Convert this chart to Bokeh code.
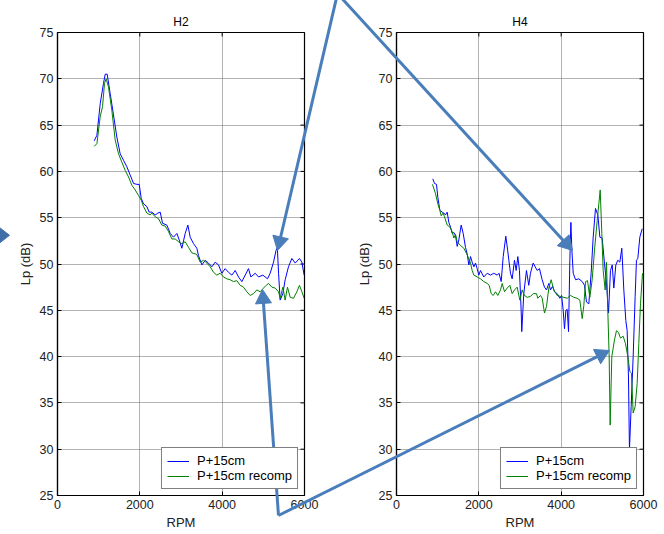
import math
from bokeh.plotting import figure
from bokeh.models import Range1d, FixedTicker, Legend
from bokeh.layouts import row
from bokeh.embed import file_html
from bokeh.resources import INLINE

# ---------------- data ----------------
h2_rpm_p15 = [891, 957, 1037, 1117, 1159, 1207, 1280, 1360, 1442, 1523, 1604, 1685,
              1766, 1847, 1928, 1985, 2033, 2090, 2171, 2227, 2292, 2373, 2438, 2495,
              2551, 2657, 2738, 2818, 2900, 2956, 3021, 3102, 3167, 3223, 3304, 3386,
              3425, 3508, 3588, 3668, 3750, 3831, 3911, 3992, 4073, 4154, 4236, 4316,
              4397, 4478, 4560, 4640, 4697, 4802, 4883, 4989, 5102, 5166, 5248, 5310,
              5340, 5370, 5409, 5475, 5530, 5611, 5693, 5774, 5878, 5936, 5992]
h2_lp_p15 = [63.3, 63.9, 67.3, 69.5, 70.5, 70.5, 68.4, 66.1, 63.7, 61.9, 61.2, 60.5,
             59.6, 58.7, 58.6, 58.6, 57.1, 56.5, 56.2, 55.6, 55.6, 55.3, 55.5, 55.6,
             54.4, 54.2, 53.3, 52.9, 53.3, 52.6, 51.7, 53.3, 54.2, 52.9, 52.2, 51.7,
             50.9, 49.9, 50.4, 50.1, 49.7, 50.2, 49.9, 49.0, 49.5, 49.1, 48.8, 49.3,
             48.6, 48.1, 48.8, 49.5, 48.6, 49.0, 48.6, 48.8, 48.4, 49.0, 50.2, 51.5,
             51.8, 49.0, 46.1, 46.8, 48.3, 49.7, 50.6, 50.1, 50.6, 50.2, 48.8]

h2_rpm_rec = [891, 957, 1037, 1094, 1142, 1183, 1239, 1320, 1401, 1482, 1563, 1645,
              1725, 1807, 1887, 1968, 2033, 2090, 2171, 2252, 2292, 2373, 2454, 2535,
              2616, 2697, 2778, 2859, 2940, 3021, 3102, 3183, 3264, 3345, 3386, 3467,
              3547, 3628, 3709, 3790, 3871, 3952, 4032, 4114, 4195, 4275, 4356, 4438,
              4518, 4600, 4681, 4761, 4843, 4924, 5004, 5070, 5126, 5208, 5288, 5369,
              5409, 5475, 5530, 5587, 5652, 5733, 5814, 5878, 5936, 5992]
h2_lp_rec = [62.7, 63.0, 65.9, 67.0, 69.5, 70.0, 69.1, 66.6, 63.4, 61.9, 61.0, 60.1,
             59.4, 58.5, 58.0, 57.4, 56.9, 56.2, 55.5, 55.3, 55.5, 55.1, 54.9, 54.2,
             54.1, 53.5, 52.7, 52.7, 52.4, 52.2, 52.4, 51.8, 51.2, 51.1, 51.0, 50.2,
             50.4, 50.1, 49.7, 49.1, 48.8, 49.0, 48.6, 48.4, 48.3, 48.1, 48.2, 47.7,
             47.5, 47.0, 46.6, 46.8, 47.2, 47.0, 47.4, 47.7, 47.9, 47.5, 47.4, 47.0,
             46.3, 47.5, 46.1, 47.5, 46.4, 46.3, 47.0, 47.7, 47.0, 46.3]

h4_rpm_p15 = [882, 923, 972, 1004, 1053, 1110, 1150, 1190, 1231, 1271, 1312, 1352,
              1393, 1433, 1474, 1514, 1571, 1620, 1676, 1717, 1757, 1798, 1838, 1879,
              1919, 1960, 2000, 2040, 2121, 2203, 2283, 2364, 2446, 2490, 2543, 2592,
              2655, 2700, 2729, 2769, 2810, 2866, 2907, 2947, 2987, 3028, 3043, 3092,
              3157, 3213, 3254, 3320, 3417, 3473, 3538, 3595, 3643, 3700, 3741, 3790,
              3838, 3903, 3968, 4010, 4049, 4081, 4114, 4146, 4179, 4211, 4236, 4260,
              4293, 4350, 4430, 4511, 4567, 4615, 4672, 4729, 4778, 4834, 4891, 4940,
              4996, 5052, 5101, 5150, 5198, 5240, 5279, 5328, 5376, 5425, 5473, 5522,
              5570, 5603, 5635, 5659, 5700, 5749, 5797, 5829, 5862, 5911, 5967]
h4_lp_p15 = [59.2, 58.7, 58.6, 57.2, 55.8, 55.6, 55.5, 55.3, 55.6, 54.5, 54.0, 53.3,
             53.4, 53.1, 51.9, 52.6, 54.2, 53.3, 51.8, 51.1, 49.9, 50.8, 50.2, 49.7,
             50.1, 49.5, 48.8, 49.3, 48.6, 49.0, 48.8, 49.0, 48.8, 49.0, 48.1, 50.8,
             53.0, 51.5, 50.4, 49.0, 48.4, 50.4, 49.3, 50.8, 49.3, 45.0, 42.7, 46.8,
             49.3, 47.7, 49.0, 50.1, 49.3, 49.5, 48.3, 47.5, 47.2, 47.9, 47.2, 47.6,
             47.0, 46.8, 46.3, 46.6, 45.0, 43.0, 45.0, 45.1, 42.7, 50.4, 54.5, 51.5,
             49.0, 48.3, 48.4, 48.1, 47.7, 45.9, 45.7, 49.1, 52.9, 56.0, 55.3, 52.9,
             52.8, 50.1, 47.9, 44.7, 49.3, 49.9, 47.4, 49.9, 50.4, 50.2, 51.7, 47.2,
             43.9, 42.8, 37.8, 29.9, 34.6, 40.0, 46.5, 50.4, 50.6, 52.9, 53.8]

h4_rpm_rec = [874, 948, 1004, 1053, 1086, 1134, 1166, 1231, 1296, 1352, 1393, 1433,
              1474, 1555, 1636, 1717, 1798, 1838, 1879, 1960, 2040, 2121, 2203, 2250,
              2300, 2349, 2405, 2462, 2526, 2567, 2624, 2689, 2753, 2810, 2866, 2931,
              2996, 3053, 3109, 3174, 3254, 3320, 3400, 3433, 3498, 3540, 3595, 3643,
              3700, 3757, 3822, 3903, 3984, 4065, 4146, 4227, 4307, 4388, 4453, 4511,
              4550, 4592, 4640, 4696, 4753, 4810, 4875, 4915, 4948, 4988, 5020, 5069,
              5101, 5133, 5166, 5190, 5230, 5295, 5344, 5392, 5441, 5506, 5563, 5619,
              5668, 5708, 5749, 5797, 5846, 5886, 5927, 5976]
h4_lp_rec = [58.6, 57.6, 56.5, 55.8, 55.2, 55.5, 55.1, 54.2, 54.0, 53.5, 52.8, 53.2,
             52.4, 52.0, 51.7, 51.0, 50.1, 49.3, 48.8, 48.6, 48.4, 48.1, 47.9, 47.7,
             46.8, 46.6, 47.0, 46.6, 47.2, 47.9, 47.0, 47.4, 47.7, 46.8, 47.2, 47.5,
             46.1, 47.2, 46.6, 46.4, 46.5, 46.8, 46.8, 46.3, 46.6, 46.3, 44.7, 45.4,
             47.4, 48.3, 47.2, 46.6, 46.5, 46.4, 46.3, 46.6, 46.4, 46.3, 46.1, 44.1,
             45.5, 48.1, 48.2, 46.4, 48.3, 51.5, 54.7, 56.5, 58.0, 53.3, 49.3, 47.2,
             50.2, 45.0, 40.0, 32.6, 40.0, 41.8, 42.8, 42.6, 42.0, 42.2, 41.4, 40.0,
             38.4, 38.2, 33.9, 34.6, 37.1, 41.4, 45.7, 49.0]

x_ticks = [0, 2000, 4000, 6000]
y_ticks = [25, 30, 35, 40, 45, 50, 55, 60, 65, 70, 75]
legend_labels = ["P+15cm", "P+15cm recomp"]
titles = ["H2", "H4"]

# callout arrows (annotation positions, in each panel's data units)
arrows_left = [  # (x0, y0, x1, y1, head)
    (6802, 79.2, 5344, 51.46, True),
    (5368, 22.84, 4980, 47.24, True),
    (5368, 22.84, 13409, 40.66, False),
]
arrows_right = [
    (-1433, 79.2, 4275, 51.46, True),
    (-2866, 22.84, 5174, 40.66, True),
]
chevron_left = ([-1600, -1166, -1600], [54.6, 53.1, 51.6])

FONT = "Liberation Sans"
ARROW_COLOR = "#4a7ebb"
FRAME_W, FRAME_H = 247, 463
PX_X = FRAME_W / 6000.0
PX_Y = FRAME_H / 50.0
HEAD = 16


def draw_arrow(p, x0, y0, x1, y1, head):
    if not head:
        p.segment(x0=[x0], y0=[y0], x1=[x1], y1=[y1], line_color=ARROW_COLOR,
                  line_width=3, level="overlay")
        return
    ux, uy = (x1 - x0) * PX_X, (y1 - y0) * PX_Y
    n = math.hypot(ux, uy)
    ux, uy = ux / n, uy / n
    back = HEAD * math.sqrt(3) / 3.0  # apex -> centroid distance
    cx, cy = x1 - ux * back / PX_X, y1 - uy * back / PX_Y
    p.segment(x0=[x0], y0=[y0], x1=[cx], y1=[cy], line_color=ARROW_COLOR,
              line_width=3, level="overlay")
    p.scatter(x=[cx], y=[cy], marker="triangle", size=HEAD,
              angle=math.atan2(-ux, uy), fill_color=ARROW_COLOR,
              line_color=ARROW_COLOR, level="overlay")


def make_panel(title, xs1, ys1, xs2, ys2, width, border_left, border_right, arrows):
    p = figure(width=width, height=534, output_backend="svg", toolbar_location=None,
               x_range=Range1d(0, 6000), y_range=Range1d(25, 75),
               min_border_left=border_left, min_border_right=border_right,
               min_border_top=32, min_border_bottom=39,
               x_axis_label="RPM", y_axis_label="Lp (dB)")
    p.title.text = title
    p.title.align = "center"
    p.title.text_font = FONT
    p.title.text_font_size = "12px"
    p.title.text_font_style = "normal"
    p.title.text_color = "#000000"
    p.title.standoff = 8
    p.outline_line_color = "#000000"
    p.outline_line_width = 1.2
    p.background_fill_color = "white"
    p.border_fill_color = "white"

    for ax in p.xaxis + p.yaxis:
        ax.major_tick_in = 4
        ax.major_tick_out = 0
        ax.minor_tick_line_color = None
        ax.axis_line_color = "#000000"
        ax.axis_line_width = 1.2
        ax.major_tick_line_color = "#000000"
        ax.major_label_text_font = FONT
        ax.major_label_text_font_size = "12.5px"
        ax.major_label_text_color = "#222222"
        ax.axis_label_text_font = FONT
        ax.axis_label_text_font_size = "13px"
        ax.axis_label_text_font_style = "normal"
        ax.axis_label_text_color = "#222222"
    p.xaxis.ticker = FixedTicker(ticks=x_ticks)
    p.yaxis.ticker = FixedTicker(ticks=y_ticks)
    p.xaxis.major_label_standoff = 4
    p.yaxis.major_label_standoff = 4
    p.xaxis.axis_label_standoff = 3
    p.yaxis.axis_label_standoff = 4

    for g in p.grid:
        g.grid_line_color = "#666666"
        g.grid_line_dash = "1 1"
        g.grid_line_width = 1
    p.xgrid.ticker = FixedTicker(ticks=x_ticks)
    p.ygrid.ticker = FixedTicker(ticks=y_ticks)

    # box ticks on the right and top edges
    p.ray(x=[6000] * len(y_ticks), y=y_ticks, length=4, length_units="screen",
          angle=math.pi, line_color="#000000", line_width=1)
    p.ray(x=x_ticks, y=[75] * len(x_ticks), length=4, length_units="screen",
          angle=-math.pi / 2, line_color="#000000", line_width=1)

    r1 = p.line(xs1, ys1, line_color="#0000ff", line_width=1)
    r2 = p.line(xs2, ys2, line_color="#008000", line_width=1)
    leg = Legend(items=[(legend_labels[0], [r1]), (legend_labels[1], [r2])],
                 location="bottom_right", margin=6, padding=5, spacing=0,
                 glyph_width=22, glyph_height=12, label_height=12,
                 label_standoff=8, border_line_color="#000000", border_line_width=1,
                 background_fill_color="white", background_fill_alpha=1.0,
                 label_text_font=FONT, label_text_font_size="13px",
                 label_text_color="#000000")
    p.add_layout(leg, "center")

    for x0, y0, x1, y1, head in arrows:
        draw_arrow(p, x0, y0, x1, y1, head)
    return p


p1 = make_panel(titles[0], h2_rpm_p15, h2_lp_p15, h2_rpm_rec, h2_lp_rec,
                341, 57, 37, arrows_left)
p1.patch(chevron_left[0], chevron_left[1], fill_color="#3f6fa8",
         line_color="#3f6fa8", level="overlay")
p2 = make_panel(titles[1], h4_rpm_p15, h4_lp_p15, h4_rpm_rec, h4_lp_rec,
                323, 55, 21, arrows_right)

layout = row(p1, p2)
open("out.html", "w").write(file_html(layout, INLINE))
